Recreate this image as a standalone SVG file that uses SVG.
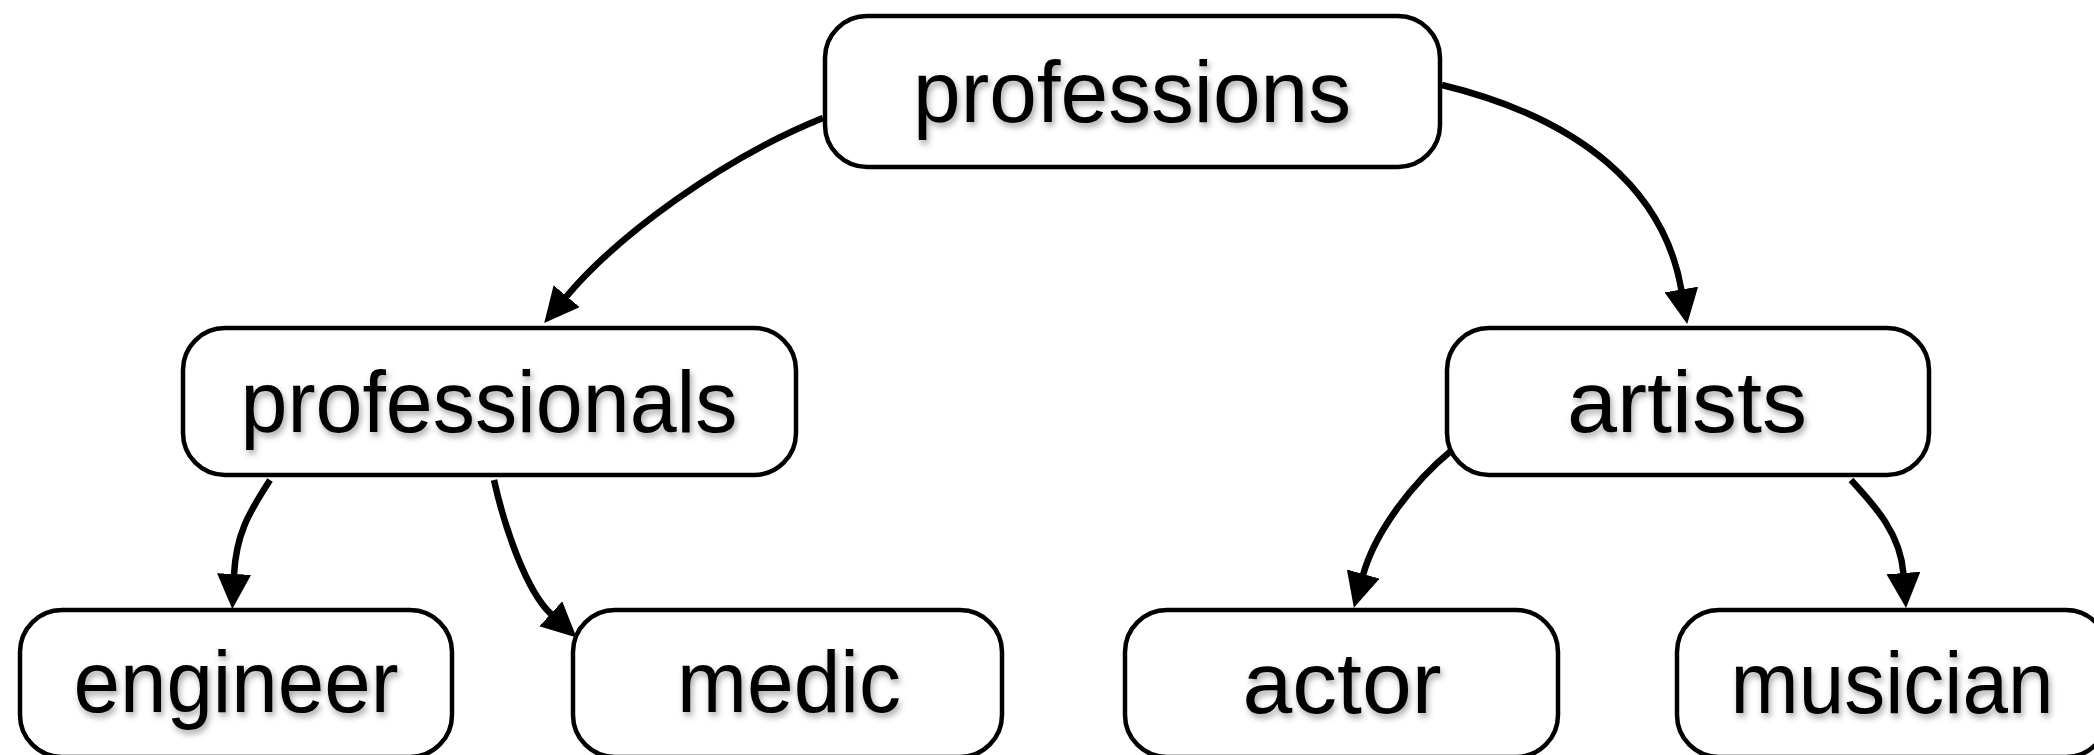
<svg xmlns="http://www.w3.org/2000/svg" width="2094" height="755" viewBox="0 0 2094 755">
<style>
.box{fill:#fff;stroke:#000;stroke-width:4.5}
.lbl{font-family:"Liberation Sans",Arial,sans-serif;font-size:87px;fill:#000;text-anchor:middle;filter:url(#sh)}
.edge{fill:none;stroke:#000;stroke-width:6.5}
</style>
<defs>
<filter id="sh" x="-10%" y="-30%" width="120%" height="160%">
<feDropShadow dx="2" dy="4" stdDeviation="3" flood-color="#000" flood-opacity="0.35"/>
</filter>
<marker id="arr" markerUnits="userSpaceOnUse" markerWidth="36" markerHeight="34" refX="1" refY="17" orient="auto">
<path d="M0,0 L35,17 L0,34 z" fill="#000"/>
</marker>
</defs>
<rect width="2094" height="755" fill="#fff"/>
<g id="connectors">
<path class="edge" marker-end="url(#arr)" d="M823,118 C723,158 617,236 566,297"/>
<path class="edge" marker-end="url(#arr)" d="M1442,85 C1582,119 1664.5,190.5 1681.5,290.5"/>
<path class="edge" marker-end="url(#arr)" d="M270,480 C248,514 236,535 234,575"/>
<path class="edge" marker-end="url(#arr)" d="M494,480 C504,525 525.7,590.8 551.5,614.5"/>
<path class="edge" marker-end="url(#arr)" d="M1452,450 C1412,483 1375,532 1363,575"/>
<path class="edge" marker-end="url(#arr)" d="M1851,480 C1876,507 1900.5,534 1903.5,574"/>
</g>
<g id="professions"><rect class="box" x="825" y="16" width="615" height="151" rx="42"/><text class="lbl" x="1132" y="122" textLength="438" lengthAdjust="spacingAndGlyphs">professions</text></g>
<g id="professionals"><rect class="box" x="183" y="328" width="613" height="147" rx="42"/><text class="lbl" x="489" y="432" textLength="497" lengthAdjust="spacingAndGlyphs">professionals</text></g>
<g id="artists"><rect class="box" x="1447" y="328" width="482" height="147" rx="42"/><text class="lbl" x="1687" y="432" textLength="240" lengthAdjust="spacingAndGlyphs">artists</text></g>
<g id="engineer"><rect class="box" x="20" y="610" width="432" height="147" rx="42"/><text class="lbl" x="236" y="712" textLength="325" lengthAdjust="spacingAndGlyphs">engineer</text></g>
<g id="medic"><rect class="box" x="573" y="610" width="429" height="147" rx="42"/><text class="lbl" x="789" y="712" textLength="224" lengthAdjust="spacingAndGlyphs">medic</text></g>
<g id="actor"><rect class="box" x="1125" y="610" width="433" height="147" rx="42"/><text class="lbl" x="1342" y="713" textLength="199" lengthAdjust="spacingAndGlyphs">actor</text></g>
<g id="musician"><rect class="box" x="1677" y="610" width="431" height="147" rx="42"/><text class="lbl" x="1892" y="713" textLength="323" lengthAdjust="spacingAndGlyphs">musician</text></g>
</svg>
